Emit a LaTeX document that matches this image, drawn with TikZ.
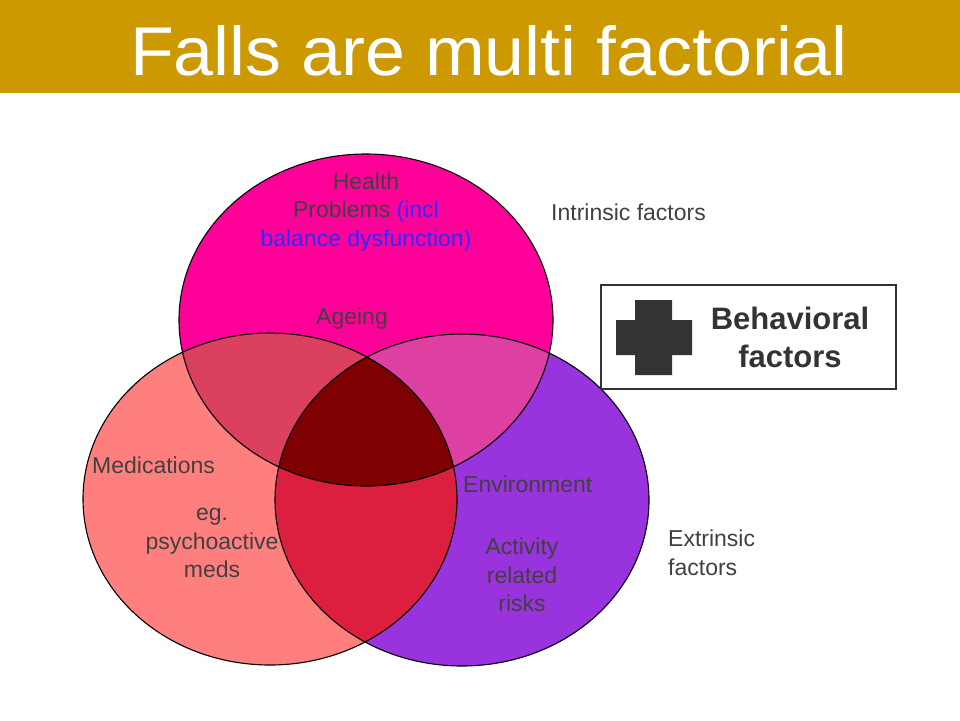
\documentclass[tikz,border=0pt]{standalone}
\usepackage{fontspec}
\setmainfont{Liberation Sans}
\newfontfamily\titlefont{Liberation Sans}[FakeStretch=1.04]
\usetikzlibrary{positioning}
\definecolor{banner}{HTML}{CC9900}
\definecolor{healthc}{HTML}{FF0099}
\definecolor{medc}{HTML}{FF7F7F}
\definecolor{envc}{HTML}{9933DD}
\definecolor{healthmed}{HTML}{DB405F}
\definecolor{healthenv}{HTML}{DD40A0}
\definecolor{medenv}{HTML}{DD1F3F}
\definecolor{allc}{HTML}{7F0000}
\definecolor{labelgray}{HTML}{404040}
\definecolor{darkgray}{HTML}{333333}
\definecolor{inclblue}{HTML}{2B2BFF}
\newcommand{\rx}{187}
\newcommand{\ry}{166}

\begin{document}
\begin{tikzpicture}[x=1pt, y=-1pt,
    lbl/.style={text=labelgray, font=\fontsize{23}{28.5}\selectfont, inner sep=0pt, align=center},
    ring/.style={draw=black, line width=1.1pt}]
    \useasboundingbox (0,0) rectangle (960,720);
    % title banner
    \fill[banner] (0,0) rectangle (960,93);
    \node[white, font=\titlefont\fontsize{69}{72}\selectfont, inner sep=0pt, anchor=base] (title) at (489,75) {Falls are multi factorial};

    % centres of the three sets
    \coordinate (hc) at (366,320);
    \coordinate (mc) at (270,499);
    \coordinate (ec) at (462,500);

    \fill[healthc] (hc) ellipse [x radius=\rx, y radius=\ry];
    \fill[medc] (mc) ellipse [x radius=\rx, y radius=\ry];
    \fill[envc] (ec) ellipse [x radius=\rx, y radius=\ry];
    \begin{scope}
        \clip (hc) ellipse [x radius=\rx, y radius=\ry];
        \fill[healthmed] (mc) ellipse [x radius=\rx, y radius=\ry];
        \fill[healthenv] (ec) ellipse [x radius=\rx, y radius=\ry];
    \end{scope}
    \begin{scope}
        \clip (mc) ellipse [x radius=\rx, y radius=\ry];
        \fill[medenv] (ec) ellipse [x radius=\rx, y radius=\ry];
    \end{scope}
    \begin{scope}
        \clip (hc) ellipse [x radius=\rx, y radius=\ry];
        \clip (mc) ellipse [x radius=\rx, y radius=\ry];
        \fill[allc] (ec) ellipse [x radius=\rx, y radius=\ry];
    \end{scope}
    \draw[ring] (hc) ellipse [x radius=\rx, y radius=\ry];
    \draw[ring] (mc) ellipse [x radius=\rx, y radius=\ry];
    \draw[ring] (ec) ellipse [x radius=\rx, y radius=\ry];

    % labels
    \node[lbl] (health) at (366,212) {Health\\Problems {\color{inclblue}(incl}\\{\color{inclblue}balance dysfunction)}};
    \node[lbl] (ageing) at (352,319) {Ageing};
    \node[lbl, anchor=west] (intrinsic) at (551,212) {Intrinsic factors};
    \node[lbl, anchor=west] (meds) at (92,465) {Medications};
    \node[lbl] (eg) at (212,543) {eg.\\psychoactive\\meds};
    \node[lbl, anchor=west] (env) at (463,484) {Environment};
    \node[lbl] (activity) at (522,575) {Activity\\related\\risks};
    \node[lbl, anchor=west, align=left] (extrinsic) at (668,553) {Extrinsic\\factors};

    % behavioral box
    \draw[darkgray, line width=2.5pt] (601,285) rectangle (896,389);
    \fill[darkgray] (635,300) -- (672,300) -- (672,320) -- (692,320) -- (692,355) -- (672,355)
        -- (672,375) -- (635,375) -- (635,355) -- (616,355) -- (616,320) -- (635,320) -- cycle;
    \node[text=darkgray, font=\bfseries\fontsize{31}{38}\selectfont, align=center, inner sep=0pt] (behav) at (790,337) {Behavioral\\factors};
\end{tikzpicture}
\end{document}
